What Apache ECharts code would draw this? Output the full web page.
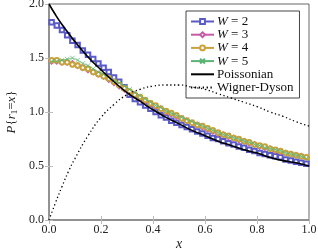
<!DOCTYPE html>
<html><head><meta charset="utf-8">
<script src="https://cdn.jsdelivr.net/npm/echarts@6/dist/echarts.min.js"></script>
<style>html,body{margin:0;padding:0;background:#fff}#c{width:318px;height:250px}</style>
</head><body><div id="c"></div>
<script>
var xs = [0.01,0.03,0.05,0.07,0.09,0.11,0.13,0.15,0.17,0.19,0.21,0.23,0.25,0.27,0.29,0.31,0.33,0.35,0.37,0.39,0.41,0.43,0.45,0.47,0.49,0.51,0.53,0.55,0.57,0.59,0.61,0.63,0.65,0.67,0.69,0.71,0.73,0.75,0.77,0.79,0.81,0.83,0.85,0.87,0.89,0.91,0.93,0.95,0.97,0.99];
var w2 = [1.83,1.80,1.76,1.71,1.66,1.62,1.57,1.53,1.49,1.45,1.41,1.37,1.32,1.28,1.23,1.16,1.12,1.09,1.06,1.03,1.00,0.97,0.95,0.92,0.90,0.88,0.86,0.84,0.82,0.80,0.78,0.76,0.75,0.73,0.71,0.70,0.68,0.67,0.65,0.64,0.62,0.61,0.60,0.59,0.58,0.56,0.55,0.54,0.53,0.52];
var w3 = [1.47,1.47,1.46,1.46,1.45,1.43,1.41,1.39,1.37,1.35,1.33,1.30,1.27,1.24,1.21,1.18,1.16,1.13,1.10,1.08,1.05,1.03,1.00,0.98,0.96,0.94,0.92,0.90,0.88,0.86,0.84,0.82,0.80,0.79,0.77,0.76,0.74,0.73,0.71,0.70,0.68,0.67,0.66,0.64,0.63,0.62,0.61,0.60,0.59,0.58];
var w4 = [1.48,1.48,1.46,1.46,1.44,1.43,1.41,1.40,1.37,1.35,1.33,1.31,1.28,1.25,1.22,1.19,1.16,1.14,1.11,1.08,1.06,1.03,1.01,0.99,0.97,0.94,0.92,0.90,0.88,0.87,0.85,0.83,0.81,0.79,0.78,0.76,0.75,0.73,0.72,0.70,0.69,0.68,0.66,0.65,0.64,0.62,0.61,0.60,0.59,0.58];
var w5 = [1.47,1.47,1.48,1.49,1.50,1.48,1.45,1.43,1.40,1.37,1.35,1.32,1.29,1.27,1.24,1.21,1.18,1.15,1.12,1.09,1.06,1.04,1.01,0.99,0.97,0.95,0.93,0.91,0.89,0.87,0.85,0.83,0.81,0.79,0.78,0.76,0.75,0.73,0.72,0.70,0.69,0.67,0.66,0.65,0.64,0.62,0.61,0.60,0.59,0.57];
var xt = [0,0.025,0.05,0.075,0.1,0.15,0.2,0.25,0.3,0.35,0.4,0.45,0.5,0.55,0.6,0.65,0.7,0.75,0.8,0.85,0.9,0.95,1.0];
var poisson = [2.00,1.90,1.81,1.73,1.65,1.51,1.39,1.28,1.18,1.10,1.02,0.95,0.89,0.83,0.78,0.73,0.69,0.65,0.62,0.58,0.55,0.53,0.50];
var wd = [0,0.16,0.31,0.45,0.57,0.78,0.95,1.07,1.16,1.21,1.24,1.25,1.25,1.23,1.21,1.17,1.13,1.09,1.05,1.00,0.96,0.91,0.87];
var names = ['W = 2','W = 3','W = 4','W = 5','Poissonian','Wigner-Dyson'];
var colors = ['#5a5ac8','#c85aa5','#c8a23c','#5ab474'];

function pairs(x, y){ return x.map(function(v,i){ return [v, y[i]]; }); }
var font = 'Liberation Serif';
var chart = echarts.init(document.getElementById('c'), null, {renderer:'canvas'});
function wSeries(i, data, sym, extra){
  var s = {name: names[i], type:'line', data: pairs(xs, data), symbol: sym, symbolSize: 4.5,
    showSymbol: true, z: 2+i, animation:false,
    lineStyle:{color: colors[i], width: 0.7},
    itemStyle:{color: colors[i], borderColor: colors[i], borderWidth: 0.7}};
  if (extra) Object.assign(s.itemStyle, extra);
  return s;
}
var tickStyle = {show:true, inside:true, length:4, lineStyle:{color:'#bbb', width:1}};
var hide = {color:'transparent', borderColor:'transparent', borderWidth:0};
chart.setOption({
  animation:false,
  grid:{left:49, right:9, top:4, bottom:30, show:true, borderColor:'#666', borderWidth:1, containLabel:false, outerBoundsMode:'none'},
  xAxis:[{type:'value', min:0, max:1, interval:0.2, position:'bottom',
    axisLine:{show:true, lineStyle:{color:'#888', width:1.5}}, axisTick:tickStyle, splitLine:{show:false},
    axisLabel:{fontFamily:font, fontSize:12, color:'#222', margin:4, formatter:function(v){return v.toFixed(1);}},
    name:'x', nameLocation:'middle', nameGap:17, nameMoveOverlap:false, nameTextStyle:{fontFamily:font, fontStyle:'italic', fontSize:14, color:'#222'}},
    {type:'value', min:0, max:1, interval:0.2, position:'top', axisLine:{show:false}, axisTick:tickStyle, axisLabel:{show:false}, splitLine:{show:false}}],
  yAxis:[{type:'value', min:0, max:2, interval:0.5, position:'left',
    axisLine:{show:true, lineStyle:{color:'#888', width:1.5}}, axisTick:tickStyle, splitLine:{show:false},
    axisLabel:{fontFamily:font, fontSize:12, color:'#222', margin:5, formatter:function(v){return v.toFixed(1);}},
    name:'{i|P}{n|{}{i|r}{s|1}{n|=}{i|x}{n|\}}', nameLocation:'middle', nameGap:30, nameMoveOverlap:false,
    nameTextStyle:{fontFamily:font, fontSize:13, color:'#222', rich:{
      n:{fontFamily:font, fontSize:13},
      i:{fontFamily:font, fontStyle:'italic', fontSize:13},
      s:{fontFamily:font, fontSize:9, verticalAlign:'bottom', padding:[6,0,0,0]}}}},
    {type:'value', min:0, max:2, interval:0.5, position:'right', axisLine:{show:false}, axisTick:tickStyle, axisLabel:{show:false}, splitLine:{show:false}}],
  legend:{orient:'vertical', left:186, top:11, width:116, itemWidth:23, itemHeight:6, itemGap:0.2,
    padding:[4,6,4,4], backgroundColor:'#fff', borderColor:'#444', borderWidth:1,
    data:[names[0],names[1],names[2],names[3],{name:names[4], itemStyle:hide},{name:names[5], itemStyle:hide}],
    textStyle:{fontFamily:font, fontSize:13, lineHeight:12, color:'#111', padding:[0,0,0,-2],
      rich:{i:{fontFamily:font, fontStyle:'italic', fontSize:13, lineHeight:12}}},
    formatter:function(n){ return n.charAt(0)==='W' && n.charAt(1)===' ' ? '{i|W} = ' + n.slice(4) : n; }},
  series:[
    wSeries(0, w2, 'emptyRect'),
    wSeries(1, w3, 'emptyDiamond'),
    wSeries(2, w4, 'emptyCircle'),
    wSeries(3, w5, 'path://M0,0L10,10M10,0L0,10', {color:'transparent'}),
    {name:names[4], type:'line', data:pairs(xt, poisson), smooth:true, showSymbol:false, symbol:'none', z:10,
      lineStyle:{color:'#000', width:1.6}, itemStyle:{color:'#000'}},
    {name:names[5], type:'line', data:pairs(xt, wd), smooth:true, showSymbol:false, symbol:'none', z:10,
      lineStyle:{color:'#000', width:1.3, type:[1.3,2.6]}, itemStyle:{color:'#000'}}
  ]
});
</script></body></html>
